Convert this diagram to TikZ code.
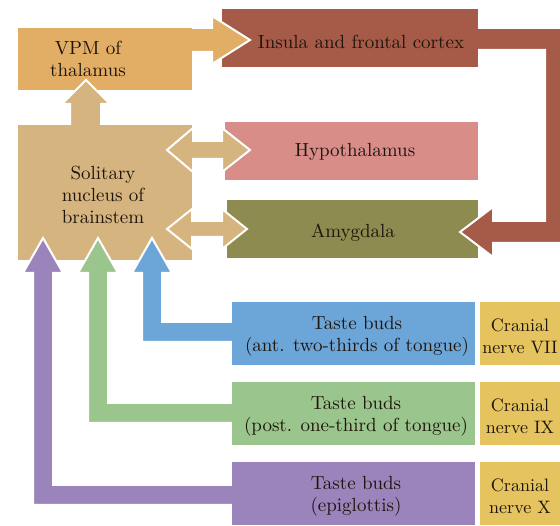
\documentclass[tikz,border=0pt]{standalone}
\usepackage{fontspec}
\newfontfamily\lmten{lmroman10-regular}[Extension=.otf]
\definecolor{vpmc}{HTML}{E2AE66}
\definecolor{solc}{HTML}{D6B47F}
\definecolor{insc}{HTML}{A65B48}
\definecolor{hypc}{HTML}{D88D89}
\definecolor{amyc}{HTML}{8D8B4F}
\definecolor{bluc}{HTML}{6CA6D9}
\definecolor{grnc}{HTML}{9AC58C}
\definecolor{purc}{HTML}{9B84BC}
\definecolor{yelc}{HTML}{E5C35F}
\definecolor{txtc}{HTML}{1E140C}
\begin{document}
\begin{tikzpicture}[x=1pt,y=-1pt,
  box/.style={rectangle, inner sep=0pt, outer sep=0pt, draw=none},
  lbl/.style={inner sep=0pt, align=center, text=txtc, font=\lmten\fontsize{19}{22}\selectfont},
  cnl/.style={lbl, font=\lmten\fontsize{18}{22}\selectfont},
  barrow/.style={draw=white, line width=2pt, line join=miter}]
\useasboundingbox (0,0) rectangle (560,526);
\fill[white] (0,0) rectangle (560,526);

% right-hand boxes
\node[box, fill=amyc, minimum width=251pt, minimum height=58pt] (amyg) at (352.5,229) {};
\node[box, fill=hypc, minimum width=253pt, minimum height=58pt] (hypo) at (351.5,151) {};

% loop arrow insula -> amygdala
\filldraw[barrow, fill=insc] (470,28) -- (562,28) -- (562,243) -- (493,243) -- (493,257)
  -- (460,232) -- (493,207) -- (493,221) -- (545,221) -- (545,50) -- (470,50) -- cycle;
\node[box, fill=insc, minimum width=256pt, minimum height=58pt] (ins) at (350,38) {};

% VPM arrow to insula
\filldraw[barrow, fill=vpmc] (185,28) -- (212,28) -- (212,16) -- (250,40) -- (212,64)
  -- (212,52) -- (185,52) -- cycle;
\node[box, fill=vpmc, minimum width=174pt, minimum height=62pt] (vpm) at (105,59) {};

% solitary up arrow to VPM
\filldraw[barrow, fill=solc] (70,130) -- (70,104) -- (62,104) -- (86,80) -- (110,104)
  -- (101,104) -- (101,130) -- cycle;
\node[box, fill=solc, minimum width=174pt, minimum height=135pt] (sol) at (105,192.5) {};

% taste bud arrows
\filldraw[barrow, fill=bluc] (240,322) -- (162,322) -- (162,273) -- (172,273) -- (152,238)
  -- (132,273) -- (142,273) -- (142,342) -- (240,342) -- cycle;
\filldraw[barrow, fill=grnc] (240,403) -- (108,403) -- (108,273) -- (118,273) -- (98,238)
  -- (78,273) -- (88,273) -- (88,423) -- (240,423) -- cycle;
\filldraw[barrow, fill=purc] (240,485) -- (53,485) -- (53,273) -- (63,273) -- (43,238)
  -- (23,273) -- (33,273) -- (33,505) -- (240,505) -- cycle;

\node[box, fill=bluc, minimum width=243pt, minimum height=63pt] (tb1) at (353.5,333.5) {};
\node[box, fill=grnc, minimum width=243pt, minimum height=63pt] (tb2) at (353.5,413.5) {};
\node[box, fill=purc, minimum width=243pt, minimum height=63pt] (tb3) at (353.5,493.5) {};
\node[box, fill=yelc, minimum width=90pt, minimum height=63pt] (cn1) at (525,333.5) {};
\node[box, fill=yelc, minimum width=90pt, minimum height=63pt] (cn2) at (525,413.5) {};
\node[box, fill=yelc, minimum width=90pt, minimum height=63pt] (cn3) at (525,493.5) {};

% double arrows
\filldraw[barrow, fill=solc] (167,150) -- (193,128) -- (193,141) -- (222,141) -- (222,128)
  -- (250,150) -- (222,172) -- (222,159) -- (193,159) -- (193,172) -- cycle;
\filldraw[barrow, fill=solc] (167,229) -- (192,209) -- (192,221) -- (222,221) -- (222,209)
  -- (247,229) -- (222,249) -- (222,237) -- (192,237) -- (192,249) -- cycle;

% labels
\node[lbl] (vpmT) at (88,59) {VPM of\\thalamus};
\node[lbl] (insT) at (361,42) {Insula and frontal cortex};
\node[lbl] (hypT) at (355,152) {Hypothalamus};
\node[lbl] (amyT) at (353,233) {Amygdala};
\node[lbl] (solT) at (103,195) {Solitary\\nucleus of\\brainstem};
\node[lbl] (tb1T) at (357,336) {Taste buds\\(ant. two-thirds of tongue)};
\node[lbl] (tb2T) at (356,416) {Taste buds\\(post. one-third of tongue)};
\node[lbl] (tb3T) at (356,496) {Taste buds\\(epiglottis)};
\node[cnl] (cn1T) at (520,336) {Cranial\\nerve VII};
\node[cnl] (cn2T) at (520,416) {Cranial\\nerve IX};
\node[cnl] (cn3T) at (520,496) {Cranial\\nerve X};
\end{tikzpicture}
\end{document}
